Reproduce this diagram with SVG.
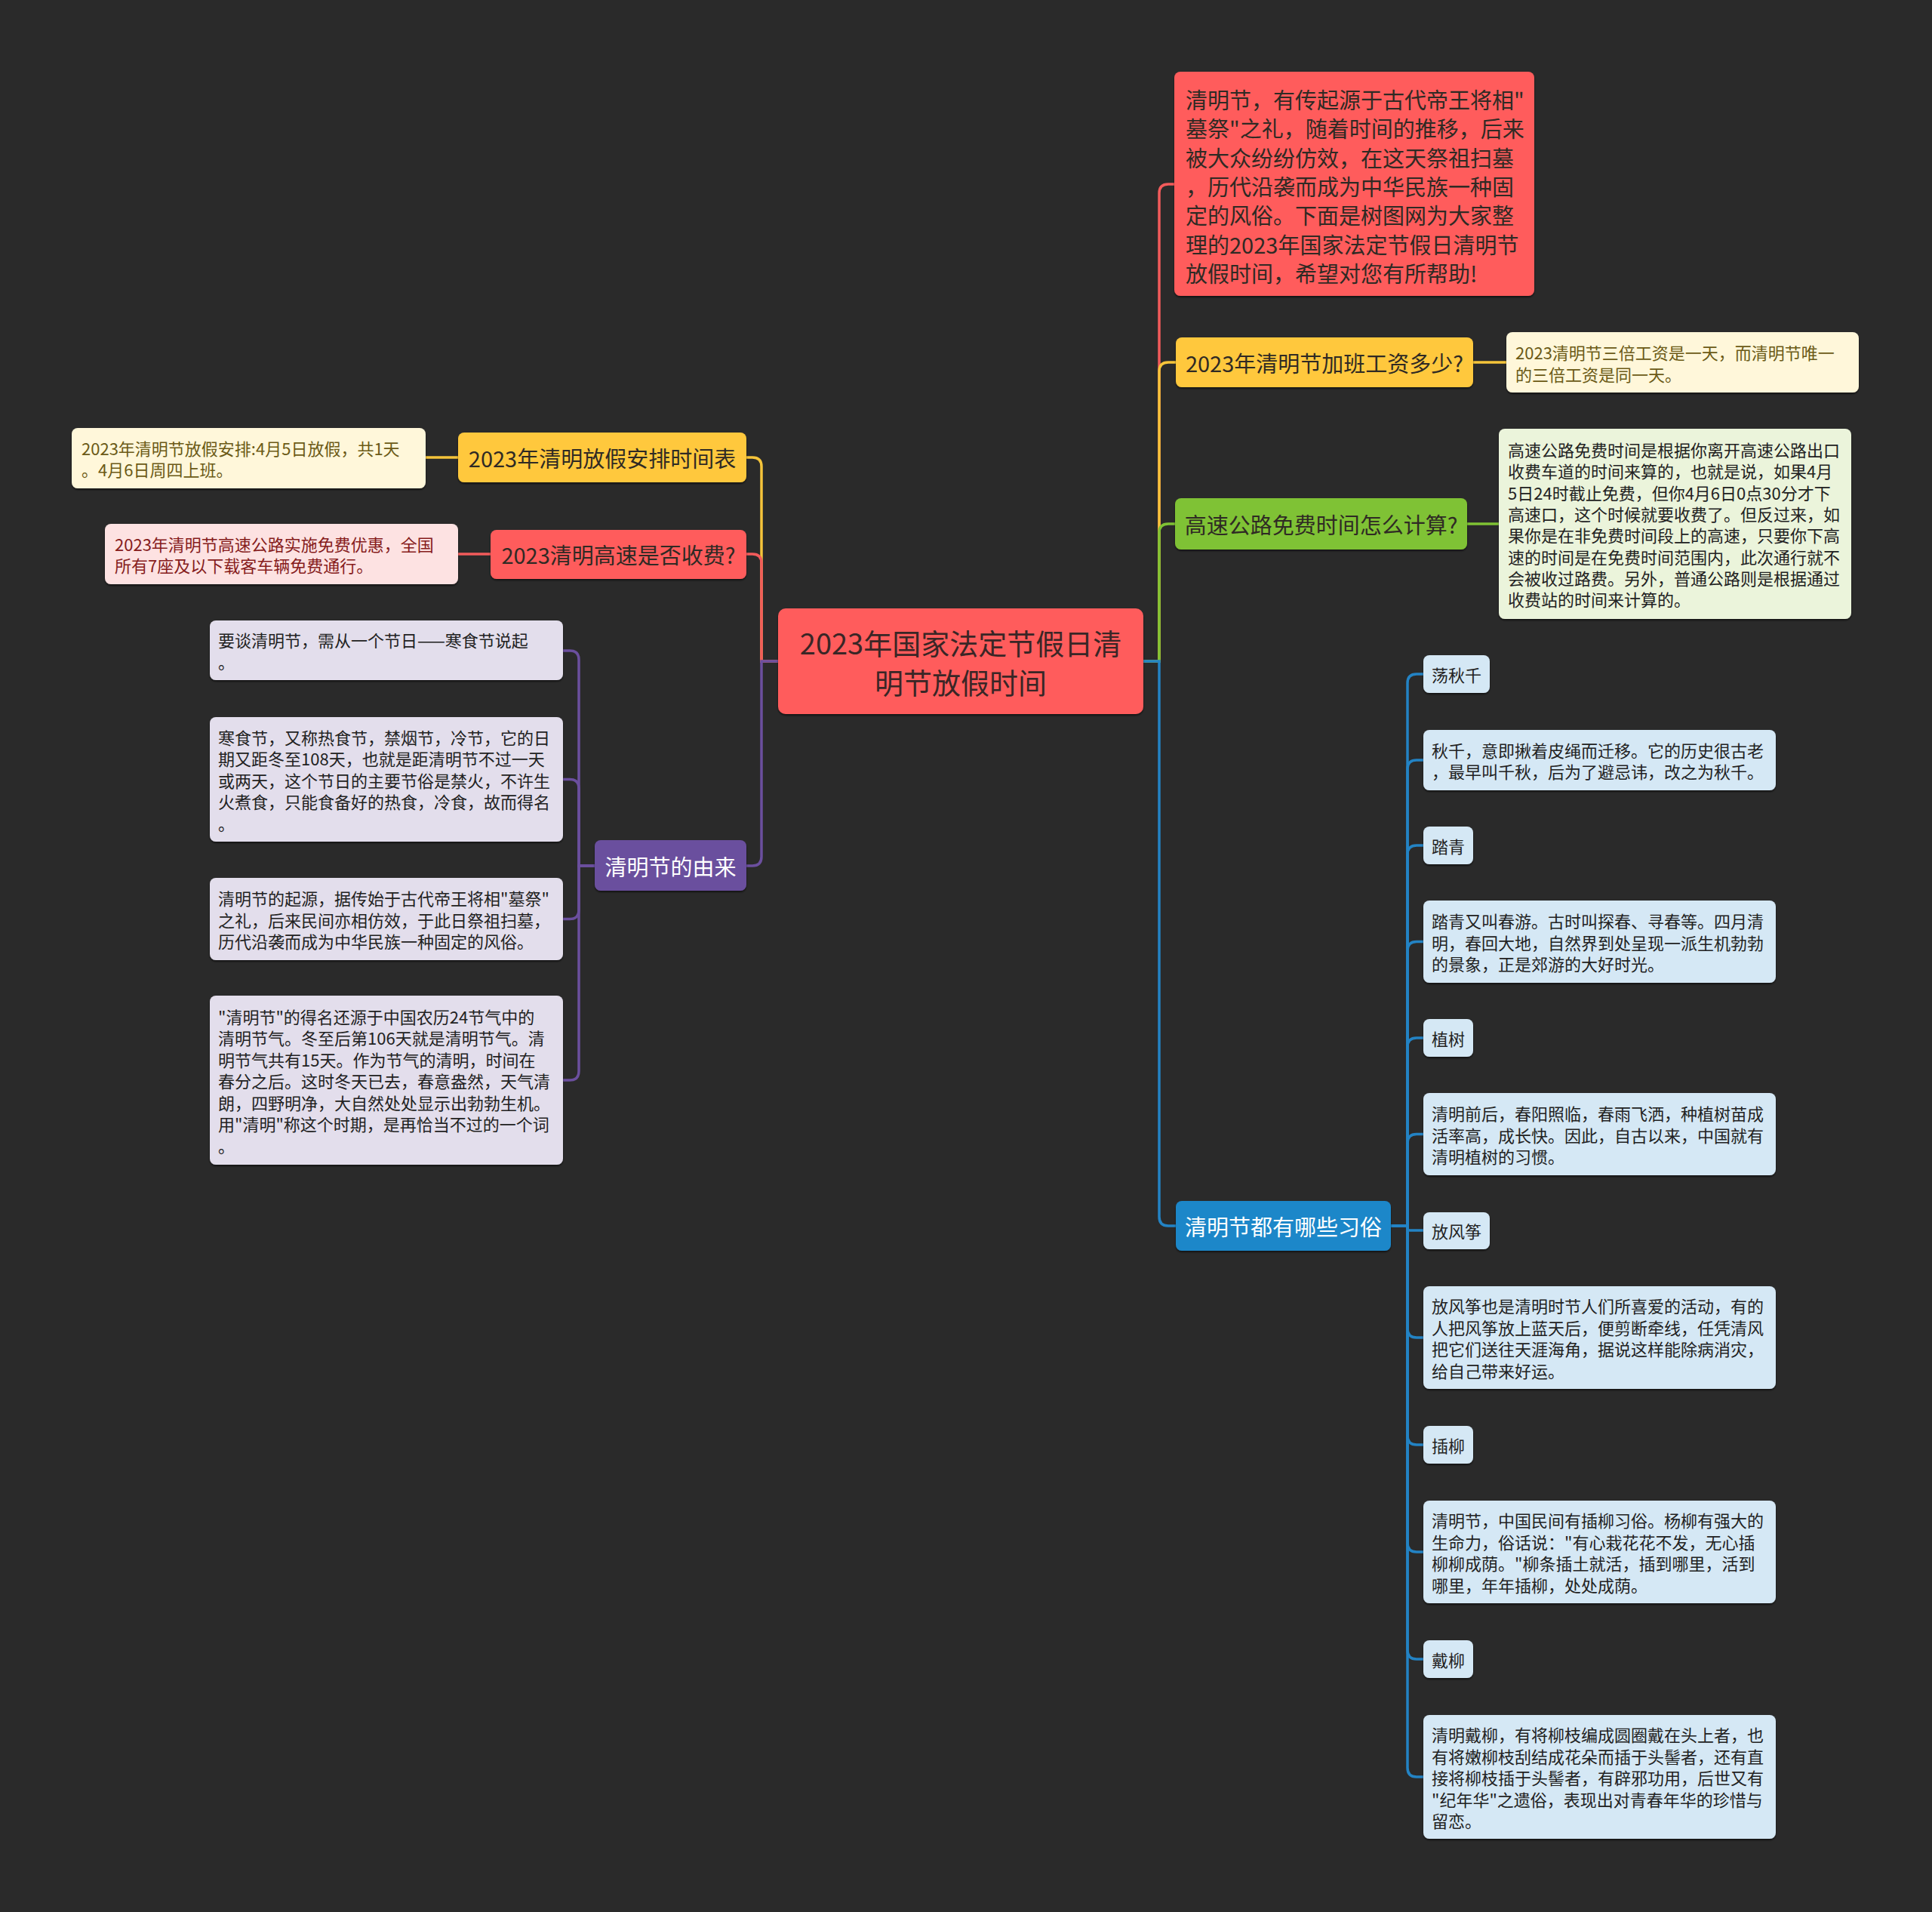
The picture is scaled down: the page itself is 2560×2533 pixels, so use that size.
<svg xmlns="http://www.w3.org/2000/svg" width="2560" height="2533" viewBox="0 0 2560 2533">
<defs>
<filter id="sh" x="-5%" y="-5%" width="110%" height="120%"><feDropShadow dx="0" dy="2" stdDeviation="1.2" flood-color="#000" flood-opacity="0.55"/></filter>
<style>
text{font-family:"Noto Sans CJK SC","Noto Sans",sans-serif;dominant-baseline:central}
.m{font-size:29px}
.s{font-size:22px}
.c{font-size:38px;fill:#3a2626;text-anchor:middle}
.mid{text-anchor:middle}
.box{filter:url(#sh)}
.red{fill:#FF5B5B}.yel{fill:#FFC83C}.grn{fill:#7FC234}.blu{fill:#1E87C9}.pur{fill:#6B4F9E}
.crm{fill:#FFF7DA}.pnk{fill:#FDE2E2}.lgr{fill:#EBF4DB}.lav{fill:#E3DEEC}.lbl{fill:#D5E8F5}
.dk{fill:#2f2a24}.wt{fill:#ffffff}.ol{fill:#6b5a16}.dr{fill:#861c1c}.bk{fill:#222222}
#connectors path{fill:none;stroke-width:3.5}
.cr{stroke:#F25B5B}.cy{stroke:#F5C43A}.cg{stroke:#7FC234}.cb{stroke:#2383C4}.cp{stroke:#6B4F9E}
</style>
</defs>
<rect width="2560" height="2533" fill="#2a2a2a"/>
<g id="connectors">
<path class="cr" d="M1515 876 H1536 V256 Q1536 244 1548 244 H1556"/>
<path class="cy" d="M1515 876 H1536 V492 Q1536 480 1548 480 H1558"/>
<path class="cg" d="M1515 876 H1536 V706 Q1536 694 1548 694 H1557"/>
<path class="cb" d="M1515 876 H1536 V1612 Q1536 1624 1548 1624 H1558"/>
<path class="cy" d="M1952 480 H1996"/>
<path class="cg" d="M1944 694 H1986"/>
<path class="cb" d="M1843 1624 H1865 V905 Q1865 893 1877 893 H1886"/>
<path class="cb" d="M1843 1624 H1865 V1019 Q1865 1007 1877 1007 H1886"/>
<path class="cb" d="M1843 1624 H1865 V1132 Q1865 1120 1877 1120 H1886"/>
<path class="cb" d="M1843 1624 H1865 V1259.5 Q1865 1247.5 1877 1247.5 H1886"/>
<path class="cb" d="M1843 1624 H1865 V1387 Q1865 1375 1877 1375 H1886"/>
<path class="cb" d="M1843 1624 H1865 V1514.5 Q1865 1502.5 1877 1502.5 H1886"/>
<path class="cb" d="M1843 1624 H1862 Q1865 1624 1865 1627 Q1865 1630 1868 1630 H1886"/>
<path class="cb" d="M1843 1624 H1865 V1760 Q1865 1772 1877 1772 H1886"/>
<path class="cb" d="M1843 1624 H1865 V1902 Q1865 1914 1877 1914 H1886"/>
<path class="cb" d="M1843 1624 H1865 V2044 Q1865 2056 1877 2056 H1886"/>
<path class="cb" d="M1843 1624 H1865 V2186 Q1865 2198 1877 2198 H1886"/>
<path class="cb" d="M1843 1624 H1865 V2342 Q1865 2354 1877 2354 H1886"/>
<path class="cy" d="M1031 876 H1009 V618 Q1009 606 997 606 H989"/>
<path class="cr" d="M1031 876 H1009 V746 Q1009 734 997 734 H989"/>
<path class="cp" d="M1031 876 H1009 V1135 Q1009 1147 997 1147 H989"/>
<path class="cy" d="M607 606 H564"/>
<path class="cr" d="M650 734 H607"/>
<path class="cp" d="M788 1147 H767 V874 Q767 862 755 862 H746"/>
<path class="cp" d="M788 1147 H767 V1044.5 Q767 1032.5 755 1032.5 H746"/>
<path class="cp" d="M788 1147 H767 V1205.5 Q767 1217.5 755 1217.5 H746"/>
<path class="cp" d="M788 1147 H767 V1419 Q767 1431 755 1431 H746"/>
</g>

<g id="center">
<rect class="box red" x="1031" y="806" width="484" height="140" rx="10"/>
<text class="c" x="1273" y="850">2023年国家法定节假日清</text>
<text class="c" x="1273" y="902">明节放假时间</text>
</g>

<g id="intro">
<rect class="box red" x="1556" y="95" width="477" height="297" rx="8"/>
<text class="m dk" x="1571"><tspan x="1571" y="131">清明节，有传起源于古代帝王将相"</tspan><tspan x="1571" y="169.3">墓祭"之礼，随着时间的推移，后来</tspan><tspan x="1571" y="207.6">被大众纷纷仿效，在这天祭祖扫墓</tspan><tspan x="1571" y="245.9">，历代沿袭而成为中华民族一种固</tspan><tspan x="1571" y="284.2">定的风俗。下面是树图网为大家整</tspan><tspan x="1571" y="322.5">理的2023年国家法定节假日清明节</tspan><tspan x="1571" y="360.8">放假时间，希望对您有所帮助!</tspan></text>
</g>

<g id="overtime">
<rect class="box yel" x="1558" y="447" width="394" height="66" rx="8"/>
<text class="m dk mid" x="1755" y="480">2023年清明节加班工资多少?</text>
</g>
<g id="overtime-detail">
<rect class="box crm" x="1996" y="440" width="467" height="80" rx="8"/>
<text class="s ol"><tspan x="2008" y="466">2023清明节三倍工资是一天，而清明节唯一</tspan><tspan x="2008" y="495">的三倍工资是同一天。</tspan></text>
</g>

<g id="toll-calc">
<rect class="box grn" x="1557" y="660" width="387" height="68" rx="8"/>
<text class="m dk mid" x="1750.5" y="694">高速公路免费时间怎么计算?</text>
</g>
<g id="toll-calc-detail">
<rect class="box lgr" x="1986" y="568" width="467" height="252" rx="8"/>
<text class="s bk"><tspan x="1998" y="595">高速公路免费时间是根据你离开高速公路出口</tspan><tspan x="1998" y="623.3">收费车道的时间来算的，也就是说，如果4月</tspan><tspan x="1998" y="651.6">5日24时截止免费，但你4月6日0点30分才下</tspan><tspan x="1998" y="679.9">高速口，这个时候就要收费了。但反过来，如</tspan><tspan x="1998" y="708.2">果你是在非免费时间段上的高速，只要你下高</tspan><tspan x="1998" y="736.5">速的时间是在免费时间范围内，此次通行就不</tspan><tspan x="1998" y="764.8">会被收过路费。另外，普通公路则是根据通过</tspan><tspan x="1998" y="793.1">收费站的时间来计算的。</tspan></text>
</g>

<g id="customs">
<rect class="box blu" x="1558" y="1591" width="285" height="66" rx="8"/>
<text class="m wt mid" x="1700.5" y="1624">清明节都有哪些习俗</text>
</g>
<g id="c1"><rect class="box lbl" x="1886" y="868" width="88" height="50" rx="8"/><text class="s bk" x="1897" y="893">荡秋千</text></g>
<g id="c2"><rect class="box lbl" x="1886" y="967" width="467" height="80" rx="8"/><text class="s bk"><tspan x="1897" y="993">秋千，意即揪着皮绳而迁移。它的历史很古老</tspan><tspan x="1897" y="1021">，最早叫千秋，后为了避忌讳，改之为秋千。</tspan></text></g>
<g id="c3"><rect class="box lbl" x="1886" y="1095" width="66" height="50" rx="8"/><text class="s bk" x="1897" y="1120">踏青</text></g>
<g id="c4"><rect class="box lbl" x="1886" y="1193" width="467" height="109" rx="8"/><text class="s bk"><tspan x="1897" y="1219">踏青又叫春游。古时叫探春、寻春等。四月清</tspan><tspan x="1897" y="1247.5">明，春回大地，自然界到处呈现一派生机勃勃</tspan><tspan x="1897" y="1276">的景象，正是郊游的大好时光。</tspan></text></g>
<g id="c5"><rect class="box lbl" x="1886" y="1350" width="66" height="50" rx="8"/><text class="s bk" x="1897" y="1375">植树</text></g>
<g id="c6"><rect class="box lbl" x="1886" y="1448" width="467" height="109" rx="8"/><text class="s bk"><tspan x="1897" y="1474">清明前后，春阳照临，春雨飞洒，种植树苗成</tspan><tspan x="1897" y="1502.5">活率高，成长快。因此，自古以来，中国就有</tspan><tspan x="1897" y="1531">清明植树的习惯。</tspan></text></g>
<g id="c7"><rect class="box lbl" x="1886" y="1606" width="88" height="49" rx="8"/><text class="s bk" x="1897" y="1630">放风筝</text></g>
<g id="c8"><rect class="box lbl" x="1886" y="1704" width="467" height="136" rx="8"/><text class="s bk"><tspan x="1897" y="1729">放风筝也是清明时节人们所喜爱的活动，有的</tspan><tspan x="1897" y="1757.5">人把风筝放上蓝天后，便剪断牵线，任凭清风</tspan><tspan x="1897" y="1786">把它们送往天涯海角，据说这样能除病消灾，</tspan><tspan x="1897" y="1814.5">给自己带来好运。</tspan></text></g>
<g id="c9"><rect class="box lbl" x="1886" y="1889" width="66" height="50" rx="8"/><text class="s bk" x="1897" y="1914">插柳</text></g>
<g id="c10"><rect class="box lbl" x="1886" y="1988" width="467" height="136" rx="8"/><text class="s bk"><tspan x="1897" y="2013">清明节，中国民间有插柳习俗。杨柳有强大的</tspan><tspan x="1897" y="2041.5">生命力，俗话说："有心栽花花不发，无心插</tspan><tspan x="1897" y="2070">柳柳成荫。"柳条插土就活，插到哪里，活到</tspan><tspan x="1897" y="2098.5">哪里，年年插柳，处处成荫。</tspan></text></g>
<g id="c11"><rect class="box lbl" x="1886" y="2173" width="66" height="50" rx="8"/><text class="s bk" x="1897" y="2198">戴柳</text></g>
<g id="c12"><rect class="box lbl" x="1886" y="2272" width="467" height="164" rx="8"/><text class="s bk"><tspan x="1897" y="2297">清明戴柳，有将柳枝编成圆圈戴在头上者，也</tspan><tspan x="1897" y="2325.5">有将嫩柳枝刮结成花朵而插于头髻者，还有直</tspan><tspan x="1897" y="2354">接将柳枝插于头髻者，有辟邪功用，后世又有</tspan><tspan x="1897" y="2382.5">"纪年华"之遗俗，表现出对青春年华的珍惜与</tspan><tspan x="1897" y="2411">留恋。</tspan></text></g>

<g id="schedule">
<rect class="box yel" x="607" y="573" width="382" height="66" rx="8"/>
<text class="m dk mid" x="798" y="606">2023年清明放假安排时间表</text>
</g>
<g id="schedule-detail">
<rect class="box crm" x="95" y="567" width="469" height="80" rx="8"/>
<text class="s ol"><tspan x="108" y="593">2023年清明节放假安排:4月5日放假，共1天</tspan><tspan x="108" y="621">。4月6日周四上班。</tspan></text>
</g>

<g id="toll">
<rect class="box red" x="650" y="702" width="339" height="65" rx="8"/>
<text class="m dk mid" x="819.5" y="734">2023清明高速是否收费?</text>
</g>
<g id="toll-detail">
<rect class="box pnk" x="139" y="694" width="468" height="80" rx="8"/>
<text class="s dr"><tspan x="152" y="720">2023年清明节高速公路实施免费优惠，全国</tspan><tspan x="152" y="748">所有7座及以下载客车辆免费通行。</tspan></text>
</g>

<g id="origin">
<rect class="box pur" x="788" y="1113" width="201" height="67" rx="8"/>
<text class="m wt mid" x="888.5" y="1147">清明节的由来</text>
</g>
<g id="o1"><rect class="box lav" x="278" y="822" width="468" height="79" rx="8"/><text class="s bk"><tspan x="289" y="847">要谈清明节，需从一个节日——寒食节说起</tspan><tspan x="289" y="876">。</tspan></text></g>
<g id="o2"><rect class="box lav" x="278" y="950" width="468" height="165" rx="8"/><text class="s bk"><tspan x="289" y="975.5">寒食节，又称热食节，禁烟节，冷节，它的日</tspan><tspan x="289" y="1004">期又距冬至108天，也就是距清明节不过一天</tspan><tspan x="289" y="1032.5">或两天，这个节日的主要节俗是禁火，不许生</tspan><tspan x="289" y="1061">火煮食，只能食备好的热食，冷食，故而得名</tspan><tspan x="289" y="1089.5">。</tspan></text></g>
<g id="o3"><rect class="box lav" x="278" y="1163" width="468" height="109" rx="8"/><text class="s bk"><tspan x="289" y="1189">清明节的起源，据传始于古代帝王将相"墓祭"</tspan><tspan x="289" y="1217.5">之礼，后来民间亦相仿效，于此日祭祖扫墓，</tspan><tspan x="289" y="1246">历代沿袭而成为中华民族一种固定的风俗。</tspan></text></g>
<g id="o4"><rect class="box lav" x="278" y="1319" width="468" height="224" rx="8"/><text class="s bk"><tspan x="289" y="1345.5">"清明节"的得名还源于中国农历24节气中的</tspan><tspan x="289" y="1374">清明节气。冬至后第106天就是清明节气。清</tspan><tspan x="289" y="1402.5">明节气共有15天。作为节气的清明，时间在</tspan><tspan x="289" y="1431">春分之后。这时冬天已去，春意盎然，天气清</tspan><tspan x="289" y="1459.5">朗，四野明净，大自然处处显示出勃勃生机。</tspan><tspan x="289" y="1488">用"清明"称这个时期，是再恰当不过的一个词</tspan><tspan x="289" y="1516.5">。</tspan></text></g>
</svg>
